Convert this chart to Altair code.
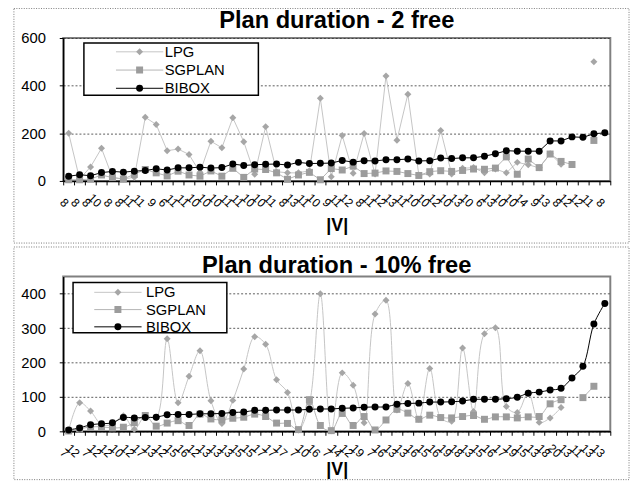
import altair as alt
import pandas as pd

FONT = "Liberation Sans"
SERIES = ["LPG", "SGPLAN", "BIBOX"]

# ---------- Panel 1 : Plan duration - 2 free ----------
V_2FREE = [8, 8, 8, 10, 8, 8, 11, 11, 9, 6, 11, 11, 10, 10, 10, 11, 11, 10, 10, 11,
           8, 13, 11, 10, 9, 11, 12, 8, 11, 12, 13, 11, 10, 10, 12, 10, 13, 10, 6, 13,
           10, 10, 14, 9, 13, 8, 12, 12, 11, 8]
LPG_2FREE = [200, 8, 59, 137, 15, 8, 15, 267, 237, 127, 134, 111, 36, 167, 139, 265, 165, 28, 228, 39,
             34, 34, 43, 347, 18, 191, 32, 199, 29, 441, 171, 364, 25, 29, 212, 29, 53, 56, 34, 50,
             34, 78, 68, 55, 114, 70, None, None, 500, None]
SGPLAN_2FREE = [5, 5, 8, 25, 14, 8, 28, 48, 34, 21, 41, 25, 20, 42, 20, 53, 15, 50, 48, 34,
                7, 25, 36, 5, 52, 46, 62, 31, 33, 42, 40, 31, 23, 39, 43, 40, 44, 50, 49, 54,
                101, 28, 92, 56, 113, 82, 69, None, 170, None]
BIBOX_2FREE = [20, 26, 22, 35, 40, 37, 41, 44, 51, 46, 55, 55, 58, 54, 56, 71, 65, 68, 70, 71,
               67, 78, 73, 74, 75, 86, 79, 85, 84, 89, 89, 92, 84, 85, 96, 94, 97, 97, 104, 114,
               127, 125, 125, 125, 168, 168, 185, 183, 198, 202]

# ---------- Panel 2 : Plan duration - 10% free ----------
V_10FREE = [7, 12, 7, 12, 12, 10, 12, 17, 13, 12, 15, 16, 12, 13, 13, 13, 15, 15, 17, 17,
            17, 7, 10, 16, 7, 14, 12, 19, 7, 16, 13, 13, 16, 15, 16, 19, 18, 13, 15, 16,
            17, 19, 15, 13, 18, 20, 13, 11, 13, 13]
LPG_10FREE = [2, 83, 59, 20, 20, 45, 6, 46, 40, 269, 83, 160, 234, 89, 23, 90, 181, 275, 253, 150,
              113, 4, 80, 400, 2, 170, 134, 25, 341, 381, 62, 139, 35, 183, 40, 29, 242, 58, 284, 301,
              72, 55, 112, 26, 39, 69, None, None, None, None]
SGPLAN_10FREE = [1, 7, 13, 13, 10, 12, 25, 46, 15, 24, 31, 17, 50, 36, 34, 38, 41, 50, 43, 24,
                 23, 5, 92, 17, 2, 52, 17, 43, 4, 33, 64, 53, 35, 47, 40, 39, 43, 46, 35, 42,
                 42, 39, 42, 43, 80, 92, None, 98, 131, None]
BIBOX_10FREE = [4, 10, 19, 22, 25, 40, 39, 40, 41, 48, 49, 49, 51, 51, 52, 55, 56, 61, 61, 62,
                62, 62, 64, 65, 65, 67, 68, 70, 71, 71, 79, 81, 82, 85, 85, 86, 88, 93, 93, 93,
                95, 99, 111, 114, 120, 125, 155, 189, 312, 372]

MARKER_COLORS = ["#a6a6a6", "#9c9c9c", "#000000"]
LINE_COLORS = ["#c4c4c4", "#b4b4b4", "#000000"]
LINE_KEYS = [s + " line" for s in SERIES]

W = 555


def long_df(lpg, sg, bb):
    rows = []
    for name, key, vals in zip(SERIES, LINE_KEYS, [lpg, sg, bb]):
        for i, v in enumerate(vals):
            rows.append({"i": i, "s": name, "ls": key, "v": v})
    return pd.DataFrame(rows)


def one_row():
    return pd.DataFrame({"k": [0]})


def panel(title, vlabels, lpg, sg, bb, ymax, yvals, height, interp,
          title_y, xtitle_y, leg_x, leg_y, leg_label_off, row_pad, box, frame):
    df = long_df(lpg, sg, bb)
    n = len(vlabels)
    label_expr = "[" + ",".join("'%s'" % v for v in vlabels) + "][datum.value]"

    x = alt.X("i:O", sort=list(range(n)),
              scale=alt.Scale(type="band", paddingInner=0, paddingOuter=0),
              axis=alt.Axis(title="|V|", labelExpr=label_expr, labelAngle=45,
                            labelAlign="right", labelBaseline="middle",
                            labelFontSize=12, labelPadding=20, labelOffset=-2.5,
                            labelOverlap=False, tickBand="extent", tickSize=4,
                            tickColor="black", domainColor="black", domainWidth=1.5,
                            titleFontSize=18, titleFontWeight="bold", titleY=xtitle_y,
                            titleBaseline="alphabetic", grid=False))
    y = alt.Y("v:Q", scale=alt.Scale(domain=[0, ymax], nice=False),
              axis=alt.Axis(values=yvals, title=None, grid=True, gridDash=[2, 2],
                            gridColor="#303030", gridWidth=0.8, tickSize=4,
                            tickColor="black", labelPadding=14, labelFontSize=15,
                            domainColor="black", domainWidth=1.5))

    frame_rect = alt.Chart(one_row()).mark_rect(
        fill="white", fillOpacity=0, stroke="#777777", strokeDash=[1, 1.5], strokeWidth=1
    ).encode(x=alt.value(frame[0]), x2=alt.value(frame[1]),
             y=alt.value(frame[2]), y2=alt.value(frame[3]))

    title_text = alt.Chart(one_row()).mark_text(
        text=title, font=FONT, fontSize=24, fontWeight="bold", color="black",
        align="center", baseline="alphabetic"
    ).encode(x=alt.value(W / 2), y=alt.value(title_y))

    line_legend = alt.Legend(title=None, orient="none", legendX=leg_x, legendY=leg_y,
                             padding=0, symbolType="stroke", symbolSize=48 * 48,
                             symbolStrokeWidth=1, clipHeight=15, rowPadding=row_pad,
                             labelExpr="''", labelFontSize=15, zindex=1)
    lines = alt.Chart(df).mark_line(
        strokeWidth=1, interpolate=interp, invalid="break-paths-show-domains"
    ).encode(
        x=x, y=y,
        stroke=alt.Stroke("ls:N", scale=alt.Scale(domain=LINE_KEYS, range=LINE_COLORS),
                          legend=line_legend),
    )

    mark_legend = alt.Legend(title=None, orient="none", legendX=leg_x, legendY=leg_y,
                             padding=0, symbolSize=50, symbolOffset=17,
                             labelOffset=leg_label_off, labelFontSize=15, labelFont=FONT,
                             labelColor="black", rowPadding=row_pad, clipHeight=15,
                             symbolStrokeWidth=0, zindex=2)
    points = alt.Chart(df).mark_point(filled=True, opacity=1, size=50).encode(
        x=x, y=y,
        color=alt.Color("s:N", scale=alt.Scale(domain=SERIES, range=MARKER_COLORS),
                        legend=mark_legend),
        shape=alt.Shape("s:N", scale=alt.Scale(domain=SERIES,
                                                range=["diamond", "square", "circle"]),
                        legend=mark_legend),
    )

    legend_box = alt.Chart(one_row()).mark_rect(
        fill="white", stroke="black", strokeWidth=1.5
    ).encode(x=alt.value(box[0]), x2=alt.value(box[1]),
             y=alt.value(box[2]), y2=alt.value(box[3]))

    return alt.layer(frame_rect, title_text, lines, points, legend_box).properties(
        width=W, height=height,
    )


top = panel("Plan duration - 2 free", V_2FREE, LPG_2FREE, SGPLAN_2FREE, BIBOX_2FREE,
            600, [0, 200, 400, 600], 145, "linear", -10, 50,
            53, 6.5, 18, 2.5, (21, 198, 5, 58), (-50, 574, -30, 208))
bottom = panel("Plan duration - 10% free", V_10FREE, LPG_10FREE, SGPLAN_10FREE, BIBOX_10FREE,
               450, [0, 100, 200, 300, 400], 157, "catmull-rom", -4, 44,
               31, 8.5, 21, 1.5, (10, 166, 6, 57), (-50, 574, -30, 206))

chart = alt.vconcat(top, bottom, spacing=0).resolve_scale(
    x="independent", y="independent", color="independent",
    stroke="independent", shape="independent"
).resolve_legend(color="independent", stroke="independent", shape="independent").properties(
    padding={"left": 4, "top": -5, "right": 0, "bottom": 0}
).configure(font=FONT).configure_view(stroke="#808080", strokeWidth=2).configure_axis(
    labelFont=FONT, titleFont=FONT, labelColor="black", titleColor="black"
)

chart.save("out.html", embed_options={"renderer": "svg", "actions": False})
